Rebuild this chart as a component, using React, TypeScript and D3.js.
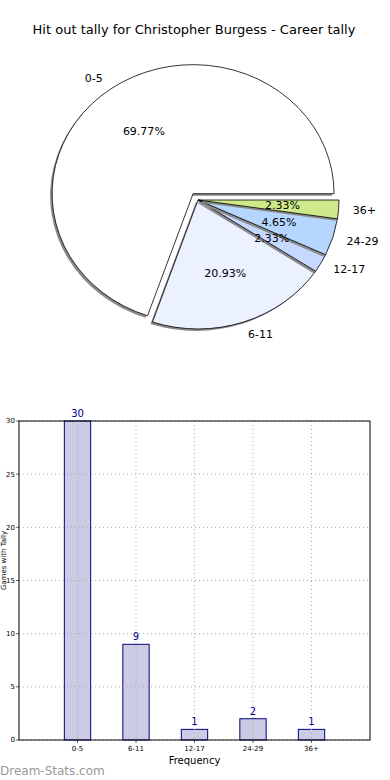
import React from 'react';
import * as d3 from 'd3';

const categories = ['0-5', '6-11', '12-17', '24-29', '36+'];
const tally = [30, 9, 1, 2, 1];
const sliceColors = ['#ffffff', '#ebf1ff', '#c6d8ff', '#b4d6ff', '#cde98a'];
const explode = [0.06, 0, 0, 0, 0];
const yTicks = [0, 5, 10, 15, 20, 25, 30];

const FONT = 'DejaVu Sans, sans-serif';

const PieChart: React.FC = () => {
  const cx = 198;
  const cy = 200;
  const rx = 141;
  const ry = 129;
  const total = d3.sum(tally);

  // matplotlib style: start at east, counter-clockwise
  const angles: { t0: number; t1: number }[] = [];
  let acc = 0;
  tally.forEach(v => {
    const t0 = acc;
    acc += (v / total) * 2 * Math.PI;
    angles.push({ t0, t1: acc });
  });

  const arc = d3.arc<{ startAngle: number; endAngle: number }>()
    .innerRadius(0)
    .outerRadius(1);

  const items = tally.map((v, i) => {
    const { t0, t1 } = angles[i];
    const mid = (t0 + t1) / 2;
    const ox = cx + explode[i] * rx * Math.cos(mid);
    const oy = cy - explode[i] * ry * Math.sin(mid);
    const d = arc({ startAngle: Math.PI / 2 - t0, endAngle: Math.PI / 2 - t1 }) || '';
    const lx = ox + 1.1 * rx * Math.cos(mid);
    const ly = oy - 1.1 * ry * Math.sin(mid);
    const px = ox + 0.6 * rx * Math.cos(mid);
    const py = oy - 0.6 * ry * Math.sin(mid);
    return { i, v, d, ox, oy, lx, ly, px, py, mid };
  });

  return (
    <g>
      {items.map(it => (
        <g key={categories[it.i]}>
          <path
            d={it.d}
            transform={`translate(${it.ox - 2},${it.oy + 2}) scale(${rx},${ry})`}
            fill="#8a8a8a"
            stroke="none"
          />
          <path
            d={it.d}
            transform={`translate(${it.ox},${it.oy}) scale(${rx},${ry})`}
            fill={sliceColors[it.i]}
            stroke="#000"
            strokeWidth={0.8}
            vectorEffect="non-scaling-stroke"
          />
        </g>
      ))}
      {items.map(it => (
        <g key={'t' + categories[it.i]} fontFamily={FONT} fontSize={11} fill="#000">
          <text
            x={it.lx}
            y={it.ly}
            dy="0.35em"
            textAnchor={Math.cos(it.mid) < 0 ? 'end' : 'start'}
          >
            {categories[it.i]}
          </text>
          <text x={it.px} y={it.py} dy="0.35em" textAnchor="middle">
            {((it.v / total) * 100).toFixed(2)}%
          </text>
        </g>
      ))}
    </g>
  );
};

const BarChart: React.FC = () => {
  const left = 19;
  const right = 370;
  const top = 421;
  const bottom = 740;

  const x = d3.scaleLinear().domain([-1, 5]).range([left, right]);
  const y = d3.scaleLinear().domain([0, 30]).range([bottom, top]);
  const barW = x(0.45) - x(0);

  return (
    <g fontFamily={FONT}>
      {tally.map((v, i) => (
        <rect
          key={categories[i]}
          x={x(i) - barW / 2}
          y={y(v)}
          width={barW}
          height={y(0) - y(v)}
          fill="#cbcbe3"
          stroke="#000080"
          strokeWidth={1}
        />
      ))}
      {/* grid */}
      {yTicks.map(t => (
        <line key={'gy' + t} x1={left} x2={right} y1={y(t)} y2={y(t)}
          stroke="#aaa" strokeWidth={1} strokeDasharray="1,3" />
      ))}
      {categories.map((c, i) => (
        <line key={'gx' + c} x1={x(i)} x2={x(i)} y1={top} y2={bottom}
          stroke="#aaa" strokeWidth={1} strokeDasharray="1,3" />
      ))}
      <rect x={left} y={top} width={right - left} height={bottom - top}
        fill="none" stroke="#000" strokeWidth={1} />
      {/* y ticks */}
      {yTicks.map(t => (
        <g key={'yt' + t}>
          <line x1={left - 3} x2={left} y1={y(t)} y2={y(t)} stroke="#000" strokeWidth={0.6} />
          <text x={left - 4} y={y(t)} dy="0.35em" textAnchor="end" fontSize={7}>{t}</text>
        </g>
      ))}
      {/* x ticks */}
      {categories.map((c, i) => (
        <g key={'xt' + c}>
          <line x1={x(i)} x2={x(i)} y1={bottom} y2={bottom + 3} stroke="#000" strokeWidth={0.6} />
          <text x={x(i)} y={bottom + 11} textAnchor="middle" fontSize={7}>{c}</text>
        </g>
      ))}
      {/* value labels */}
      {tally.map((v, i) => (
        <text key={'v' + i} x={x(i)} y={y(v) - 4} textAnchor="middle" fontSize={10} fill="#00008b">
          {v}
        </text>
      ))}
      <text x={(left + right) / 2} y={764} textAnchor="middle" fontSize={10}>Frequency</text>
      <text transform={`translate(4,${(top + bottom) / 2 - 20}) rotate(-90)`} dy="0.35em" textAnchor="middle" fontSize={7}>
        Games with Tally
      </text>
    </g>
  );
};

const App: React.FC = () => {
  return (
    <svg
      width={390}
      height={780}
      style={{ position: 'absolute', left: 0, top: 0, background: '#fff' }}
    >
      <rect width={390} height={780} fill="#fff" />
      <text x={194} y={34} textAnchor="middle" fontFamily={FONT} fontSize={13}>
        Hit out tally for Christopher Burgess - Career tally
      </text>
      <PieChart />
      <BarChart />
      <text x={0} y={775} fontFamily={FONT} fontSize={12} fill="#999">
        Dream-Stats.com
      </text>
    </svg>
  );
};

export default App;
